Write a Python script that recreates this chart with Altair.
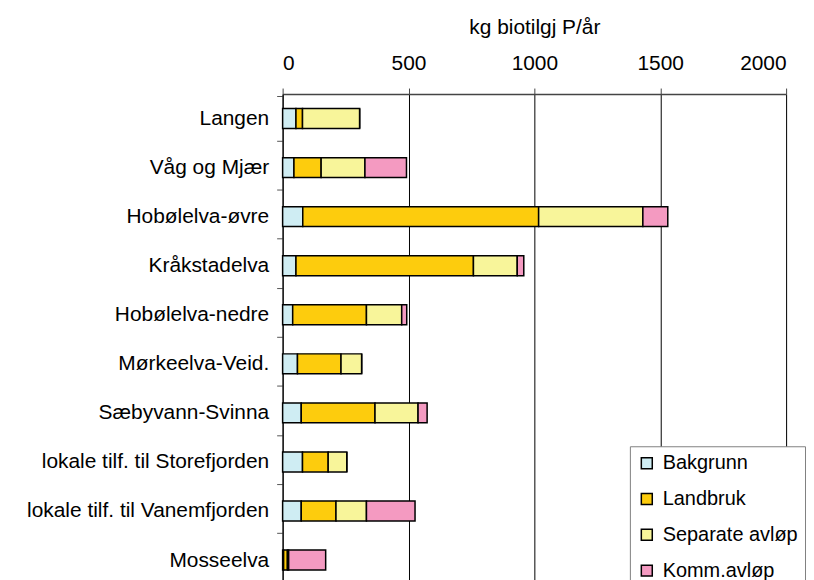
import altair as alt
import pandas as pd

categories = ["Langen", "Våg og Mjær", "Hobølelva-øvre", "Kråkstadelva",
              "Hobølelva-nedre", "Mørkeelva-Veid.", "Sæbyvann-Svinna",
              "lokale tilf. til Storefjorden", "lokale tilf. til Vanemfjorden",
              "Mosseelva"]
series = ["Bakgrunn", "Landbruk", "Separate avløp", "Komm.avløp"]
bakgrunn = [53, 45, 80, 53, 40, 59, 74, 79, 74, 4]
landbruk = [26, 108, 937, 705, 293, 173, 293, 102, 138, 15]
separate = [227, 174, 414, 174, 140, 82, 171, 74, 121, 5]
komm = [0, 165, 99, 26, 20, 0, 36, 0, 193, 147]
colors = ["#CFEDF3", "#FDCC0D", "#F8F59A", "#F49AC1"]
x_ticks = [0, 500, 1000, 1500, 2000]

rows = []
for i, c in enumerate(categories):
    for j, (s, vals) in enumerate(zip(series, [bakgrunn, landbruk, separate, komm])):
        rows.append({"omr": c, "kilde": s, "ord": j, "verdi": vals[i]})
df = pd.DataFrame(rows)

FONT = "Liberation Sans"

chart = alt.Chart(df).mark_bar(size=20, stroke="black", strokeWidth=1.5).encode(
    y=alt.Y("omr:N", sort=categories,
            axis=alt.Axis(title=None, tickBand="extent", labelFontSize=21,
                          labelFont=FONT, labelColor="black", labelPadding=8,
                          tickSize=6, tickColor="#555", domainColor="black",
                          grid=False, labelLimit=400)),
    x=alt.X("verdi:Q", stack="zero",
            scale=alt.Scale(domain=[0, 2000], nice=False),
            axis=alt.Axis(orient="top", values=x_ticks, format="d",
                          title="kg biotilgj P/år",
                          titleFont=FONT, titleFontSize=21, titleFontWeight="normal",
                          titleColor="black", titlePadding=15,
                          labelFont=FONT, labelFontSize=21, labelColor="black",
                          labelPadding=15, tickSize=6, tickColor="#444",
                          domainColor="#444", domainWidth=1.5,
                          grid=True, gridColor="black", gridWidth=1)),
    color=alt.Color("kilde:N", sort=series,
                    scale=alt.Scale(domain=series, range=colors),
                    legend=alt.Legend(orient="none", legendX=349, legendY=354,
                                      title=None, symbolType="square", symbolSize=121,
                                      symbolStrokeColor="black", symbolStrokeWidth=1.5,
                                      labelFont=FONT, labelFontSize=20, labelColor="black",
                                      rowPadding=16, padding=7, labelOffset=6,
                                      fillColor="white", strokeColor="#808080")),
    order=alt.Order("ord:Q"),
).properties(
    width=506, height=493,
    padding={"left": 18, "top": 7, "right": 0, "bottom": 0},
).configure_view(strokeWidth=0).configure(background="white")

chart.save("out.html", embed_options={"renderer": "svg", "actions": False})
